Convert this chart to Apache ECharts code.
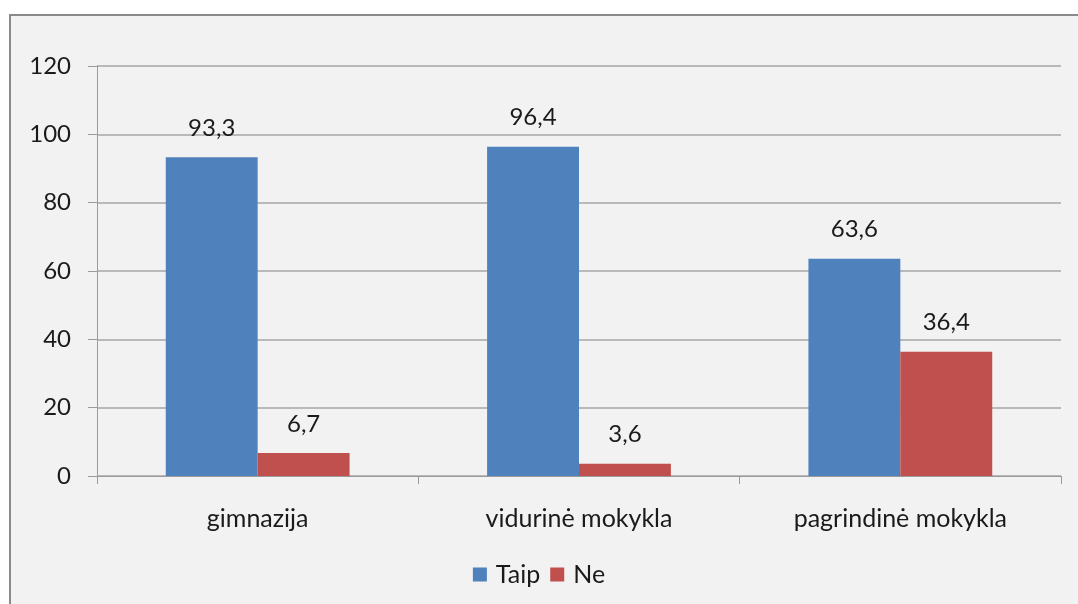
<!DOCTYPE html>
<html>
<head>
<meta charset="utf-8">
<script src="https://cdn.jsdelivr.net/npm/echarts@6/dist/echarts.min.js"></script>
<style>
  html, body { margin: 0; padding: 0; background: #ffffff; }
  #chart { width: 1078px; height: 604px; }
</style>
</head>
<body>
<div id="chart"></div>
<script>
// School types and answer shares (%)
const categories = ['gimnazija', 'vidurinė mokykla', 'pagrindinė mokykla'];
const taipValues = [93.3, 96.4, 63.6];
const neValues = [6.7, 3.6, 36.4];
const seriesNames = ['Taip', 'Ne'];

const fontFamily = 'Lato, "Open Sans", sans-serif';
const textColor = '#1a1a1a';

const fmt = v => String(v).replace('.', ',');

const chart = echarts.init(document.getElementById('chart'), null, { renderer: 'canvas' });

const valueLabel = {
  show: true, position: 'top', distance: 17,
  fontSize: 24, color: textColor, fontFamily: fontFamily,
  formatter: p => fmt(p.value)
};

chart.setOption({
  backgroundColor: '#ffffff',
  animation: false,
  textStyle: { fontFamily: fontFamily },
  graphic: [{
    type: 'rect',
    z: -10,
    silent: true,
    shape: { x: 10, y: 15, width: 1120, height: 700 },
    style: { fill: '#f2f2f2', stroke: '#8a8a8a', lineWidth: 2 }
  }],
  grid: { left: 97, right: 17, top: 66, bottom: 128, containLabel: false },
  legend: {
    data: seriesNames,
    top: 557,
    left: 'center',
    itemWidth: 14,
    itemHeight: 14,
    itemGap: 10,
    icon: 'rect',
    textStyle: { fontSize: 25, color: textColor, fontFamily: fontFamily, padding: [0, 0, 0, 4] }
  },
  xAxis: {
    type: 'category',
    data: categories,
    axisLine: { lineStyle: { color: '#9a9a9a', width: 1 } },
    axisTick: { show: true, length: 8, lineStyle: { color: '#9a9a9a' } },
    axisLabel: { margin: 30, fontSize: 25, color: textColor, fontFamily: fontFamily }
  },
  yAxis: {
    type: 'value',
    min: 0,
    max: 120,
    interval: 20,
    axisLine: { show: true, lineStyle: { color: '#9a9a9a', width: 1 } },
    axisTick: { show: true, length: 9, lineStyle: { color: '#9a9a9a' } },
    axisLabel: { margin: 26, fontSize: 24, color: textColor, fontFamily: fontFamily },
    splitLine: { lineStyle: { color: '#a6a6a6', width: 1.5 } }
  },
  series: [
    {
      name: seriesNames[0],
      type: 'bar',
      data: taipValues,
      barGap: '0%',
      barCategoryGap: '42.8%',
      itemStyle: { color: '#4f81bd' },
      label: valueLabel
    },
    {
      name: seriesNames[1],
      type: 'bar',
      data: neValues,
      barGap: '0%',
      barCategoryGap: '42.8%',
      itemStyle: { color: '#c0504d' },
      label: valueLabel
    }
  ]
});
</script>
</body>
</html>
